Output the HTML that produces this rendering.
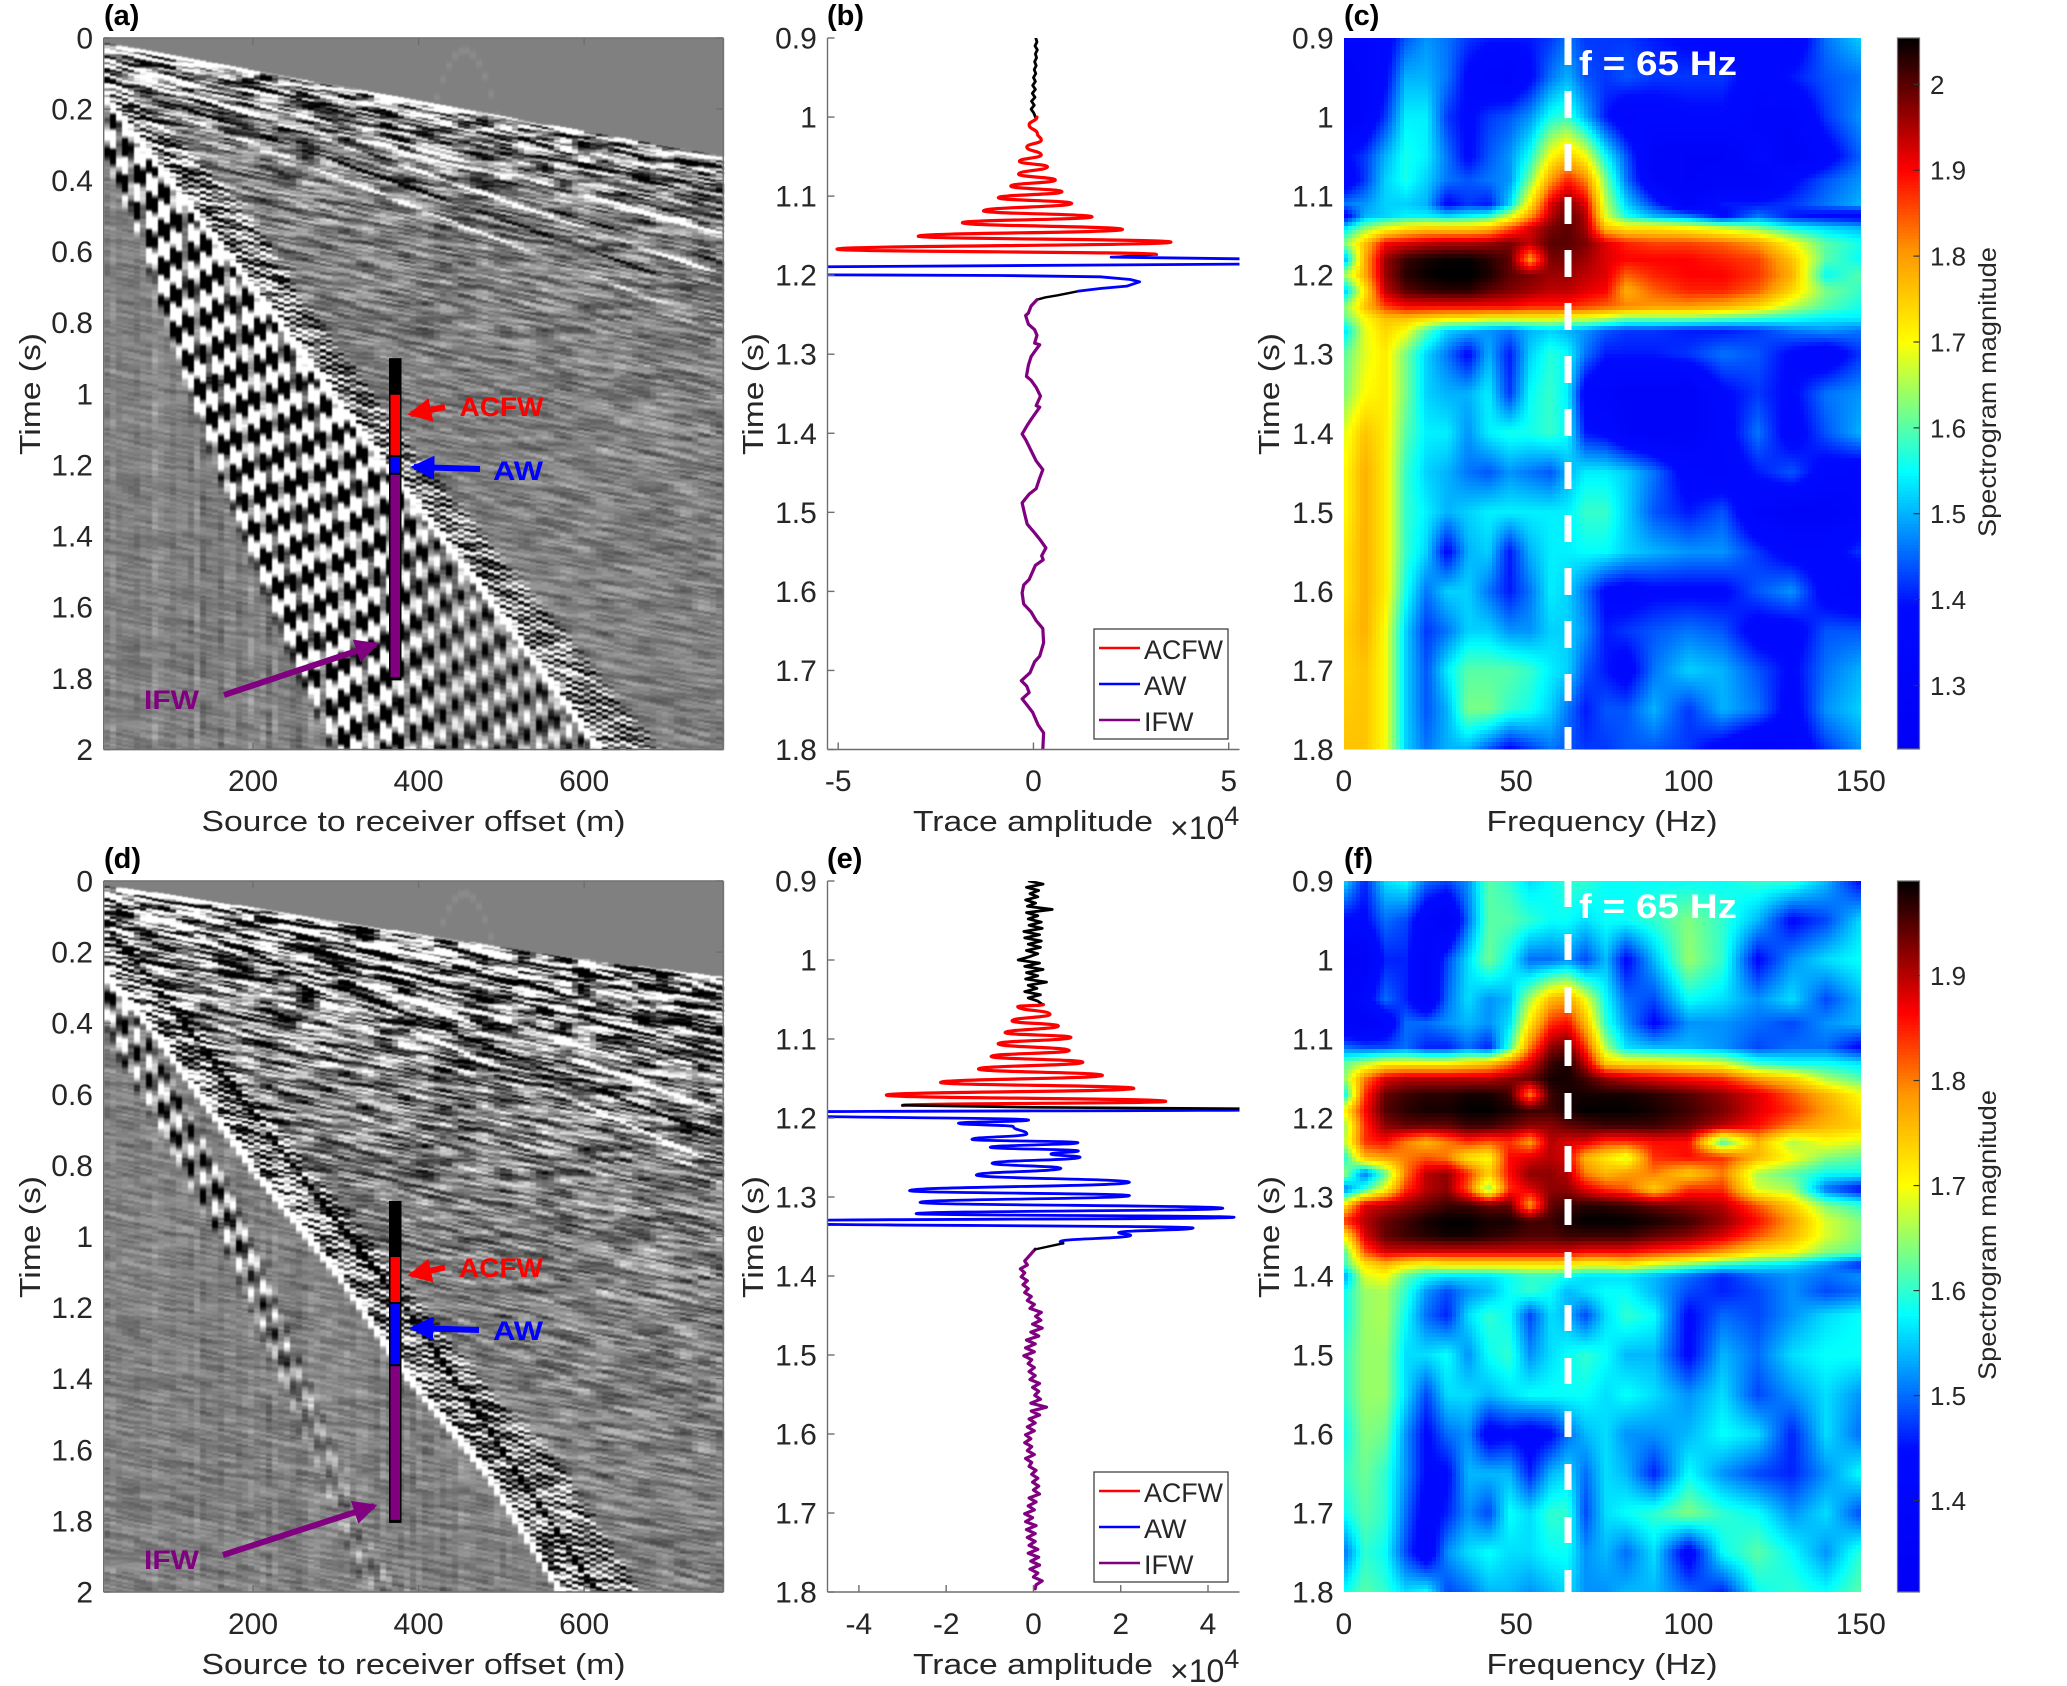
<!DOCTYPE html>
<html lang="en">
<head>
<meta charset="utf-8">
<title>Seismic gathers, traces and spectrograms</title>
<style>
html,body{margin:0;padding:0;background:#fff;}
#figure{position:relative;width:2067px;height:1686px;overflow:hidden;background:#fff;font-family:"Liberation Sans",sans-serif;}
canvas{position:absolute;display:block;filter:blur(0.6px);}
#overlay{position:absolute;left:0;top:0;}
text{font-family:"Liberation Sans",sans-serif;fill:#262626;}
</style>
</head>
<body>
<div id="figure">
<canvas id="gather-a" width="620" height="712" style="left:104px;top:38px"></canvas>
<canvas id="gather-d" width="620" height="711" style="left:104px;top:881px"></canvas>
<svg id="overlay" width="2067" height="1686" viewBox="0 0 2067 1686" xmlns="http://www.w3.org/2000/svg">
<defs>
<clipPath id="clip-b"><rect x="827.5" y="38" width="412" height="711.5"/></clipPath>
<clipPath id="clip-e"><rect x="827.5" y="881" width="412" height="711"/></clipPath>
<marker id="head-red" markerWidth="4" markerHeight="4" refX="3.4" refY="2" orient="auto"><path d="M0,0 L4,2 L0,4 Z" fill="#ff0000"/></marker>
<marker id="head-blue" markerWidth="4" markerHeight="4" refX="3.4" refY="2" orient="auto"><path d="M0,0 L4,2 L0,4 Z" fill="#0000ff"/></marker>
<marker id="head-purple" markerWidth="4" markerHeight="4" refX="3.4" refY="2" orient="auto"><path d="M0,0 L4,2 L0,4 Z" fill="#800080"/></marker>
</defs>
<g id="heat-c"></g>
<g id="heat-f"></g>
<g id="cbar-c"></g>
<g id="cbar-f"></g>
<g id="trace-b" clip-path="url(#clip-b)"></g>
<g id="trace-e" clip-path="url(#clip-e)"></g>
<g id="axes"></g>
<g id="bars"></g>

<text x="104" y="25" font-size="29" font-weight="bold" style="fill:#000">(a)</text>
<text x="827" y="25" font-size="29" font-weight="bold" style="fill:#000">(b)</text>
<text x="1344" y="25" font-size="29" font-weight="bold" style="fill:#000">(c)</text>
<text x="104" y="868" font-size="29" font-weight="bold" style="fill:#000">(d)</text>
<text x="827" y="868" font-size="29" font-weight="bold" style="fill:#000">(e)</text>
<text x="1344" y="868" font-size="29" font-weight="bold" style="fill:#000">(f)</text>

<text x="413.5" y="831" font-size="29" text-anchor="middle" textLength="424" lengthAdjust="spacingAndGlyphs">Source to receiver offset (m)</text>
<text x="413.5" y="1674" font-size="29" text-anchor="middle" textLength="424" lengthAdjust="spacingAndGlyphs">Source to receiver offset (m)</text>
<text x="1033" y="831" font-size="29" text-anchor="middle" textLength="240" lengthAdjust="spacingAndGlyphs">Trace amplitude</text>
<text x="1033" y="1674" font-size="29" text-anchor="middle" textLength="240" lengthAdjust="spacingAndGlyphs">Trace amplitude</text>
<text x="1602" y="831" font-size="29" text-anchor="middle" textLength="231" lengthAdjust="spacingAndGlyphs">Frequency (Hz)</text>
<text x="1602" y="1674" font-size="29" text-anchor="middle" textLength="231" lengthAdjust="spacingAndGlyphs">Frequency (Hz)</text>

<text x="1170" y="839" font-size="32">×10<tspan dy="-14" font-size="27">4</tspan></text>
<text x="1170" y="1682" font-size="32">×10<tspan dy="-14" font-size="27">4</tspan></text>

<text transform="rotate(-90 40 394)" x="40" y="394" font-size="29" text-anchor="middle" textLength="122" lengthAdjust="spacingAndGlyphs">Time (s)</text>
<text transform="rotate(-90 763 394)" x="763" y="394" font-size="29" text-anchor="middle" textLength="122" lengthAdjust="spacingAndGlyphs">Time (s)</text>
<text transform="rotate(-90 1279 394)" x="1279" y="394" font-size="29" text-anchor="middle" textLength="122" lengthAdjust="spacingAndGlyphs">Time (s)</text>
<text transform="rotate(-90 40 1237)" x="40" y="1237" font-size="29" text-anchor="middle" textLength="122" lengthAdjust="spacingAndGlyphs">Time (s)</text>
<text transform="rotate(-90 763 1237)" x="763" y="1237" font-size="29" text-anchor="middle" textLength="122" lengthAdjust="spacingAndGlyphs">Time (s)</text>
<text transform="rotate(-90 1279 1237)" x="1279" y="1237" font-size="29" text-anchor="middle" textLength="122" lengthAdjust="spacingAndGlyphs">Time (s)</text>

<text transform="rotate(-90 1996 392)" x="1996" y="392" font-size="25" text-anchor="middle" textLength="290" lengthAdjust="spacingAndGlyphs">Spectrogram magnitude</text>
<text transform="rotate(-90 1996 1235)" x="1996" y="1235" font-size="25" text-anchor="middle" textLength="290" lengthAdjust="spacingAndGlyphs">Spectrogram magnitude</text>

<line x1="1568" y1="38" x2="1568" y2="749" stroke="#fff" stroke-width="7" stroke-dasharray="27 26"/>
<line x1="1568" y1="881" x2="1568" y2="1592" stroke="#fff" stroke-width="7" stroke-dasharray="26 27"/>
<text x="1579" y="75" font-size="34" font-weight="bold" textLength="158" lengthAdjust="spacingAndGlyphs" style="fill:#fff">f = 65 Hz</text>
<text x="1579" y="918" font-size="34" font-weight="bold" textLength="158" lengthAdjust="spacingAndGlyphs" style="fill:#fff">f = 65 Hz</text>

<line x1="445" y1="407" x2="411" y2="414" stroke="#ff0000" stroke-width="6" marker-end="url(#head-red)"/>
<text x="459.5" y="416" font-size="27" font-weight="bold" textLength="84" lengthAdjust="spacingAndGlyphs" style="fill:#ff0000">ACFW</text>
<line x1="480" y1="469" x2="414" y2="467" stroke="#0000ff" stroke-width="6" marker-end="url(#head-blue)"/>
<text x="493" y="480" font-size="27" font-weight="bold" textLength="50" lengthAdjust="spacingAndGlyphs" style="fill:#0000ff">AW</text>
<line x1="224" y1="695" x2="376" y2="644.5" stroke="#800080" stroke-width="6" marker-end="url(#head-purple)"/>
<text x="144" y="709" font-size="27" font-weight="bold" textLength="55" lengthAdjust="spacingAndGlyphs" style="fill:#800080">IFW</text>

<line x1="445" y1="1267.5" x2="411" y2="1275" stroke="#ff0000" stroke-width="6" marker-end="url(#head-red)"/>
<text x="459" y="1277" font-size="27" font-weight="bold" textLength="84" lengthAdjust="spacingAndGlyphs" style="fill:#ff0000">ACFW</text>
<line x1="479" y1="1330" x2="413" y2="1328" stroke="#0000ff" stroke-width="6" marker-end="url(#head-blue)"/>
<text x="493" y="1340" font-size="27" font-weight="bold" textLength="50" lengthAdjust="spacingAndGlyphs" style="fill:#0000ff">AW</text>
<line x1="223" y1="1555" x2="374" y2="1506" stroke="#800080" stroke-width="6" marker-end="url(#head-purple)"/>
<text x="144" y="1569" font-size="27" font-weight="bold" textLength="55" lengthAdjust="spacingAndGlyphs" style="fill:#800080">IFW</text>

<g>
<rect x="1094" y="629" width="134" height="110" fill="#fff" stroke="#333" stroke-width="1.2"/>
<line x1="1099" y1="648" x2="1140" y2="648" stroke="#ff0000" stroke-width="2.6"/>
<text x="1144" y="659" font-size="27" textLength="79" lengthAdjust="spacingAndGlyphs">ACFW</text>
<line x1="1099" y1="684" x2="1140" y2="684" stroke="#0000ff" stroke-width="2.6"/>
<text x="1144" y="695" font-size="27">AW</text>
<line x1="1099" y1="720" x2="1140" y2="720" stroke="#800080" stroke-width="2.6"/>
<text x="1144" y="731" font-size="27">IFW</text>
</g>
<g>
<rect x="1094" y="1472" width="134" height="110" fill="#fff" stroke="#333" stroke-width="1.2"/>
<line x1="1099" y1="1491" x2="1140" y2="1491" stroke="#ff0000" stroke-width="2.6"/>
<text x="1144" y="1502" font-size="27" textLength="79" lengthAdjust="spacingAndGlyphs">ACFW</text>
<line x1="1099" y1="1527" x2="1140" y2="1527" stroke="#0000ff" stroke-width="2.6"/>
<text x="1144" y="1538" font-size="27">AW</text>
<line x1="1099" y1="1563" x2="1140" y2="1563" stroke="#800080" stroke-width="2.6"/>
<text x="1144" y="1574" font-size="27">IFW</text>
</g>
</svg>
</div>

<script>
/* ---------- tick labels ---------- */
const gatherTimeTicks = ['0','0.2','0.4','0.6','0.8','1','1.2','1.4','1.6','1.8','2'];
const gatherOffsetTicks = ['200','400','600'];
const windowTimeTicks = ['0.9','1','1.1','1.2','1.3','1.4','1.5','1.6','1.7','1.8'];
const ampTicksB = ['-5','0','5'];
const ampTicksE = ['-4','-2','0','2','4'];
const freqTicks = ['0','50','100','150'];
const cbarTicksC = ['1.3','1.4','1.5','1.6','1.7','1.8','1.9','2'];
const cbarTicksF = ['1.4','1.5','1.6','1.7','1.8','1.9'];

/* ---------- trace (b), amplitudes in 1e4 units ---------- */
const blackStartB = 0.9;
const blackStepB = 0.005;
const blackAmpB = [0.06,0.09,0.04,0.10,0.05,0.08,0.03,0.07,0.02,0.06,0.0,0.05,-0.02,0.05,-0.03,0.04,-0.05,0.02,-0.06,0.01,0.05];
const redTimesB = [1.0,1.010,1.021,1.029,1.038,1.048,1.056,1.0629,1.0722,1.0797,1.0873,1.0945,1.102,1.1092,1.1186,1.1262,1.1337,1.1422,1.1507,1.1582,1.1671,1.1738];
const redAmpB = [0.09,-0.11,0.10,0.20,-0.17,0.20,-0.36,0.36,-0.38,0.56,-0.58,0.73,-0.90,0.98,-1.28,1.50,-1.82,2.28,-2.95,3.52,-5.03,3.15];
const joinTimesB = [1.1738,1.1772];
const joinAmpB = [3.15,1.99];
const blueTimesB = [1.1772,1.1793,1.1827,1.186,1.1894,1.1945,1.1996,1.2004,1.2021,1.2055,1.2084,1.2139,1.2169,1.2202];
const blueAmpB = [1.99,5.3,12,5.3,-5.3,-16,-5.3,-0.85,1.71,2.48,2.72,2.39,1.71,1.15];
const tailTimesB = [1.2202,1.2255,1.2282,1.231];
const tailAmpB = [1.15,0.62,0.30,0.09];
const purpleTimesB = [1.231,1.239,1.248,1.251,1.262,1.269,1.276,1.286,1.288,1.294,1.303,1.314,1.328,1.333,1.342,1.353,1.365,1.367,1.381,1.390,1.401,1.408,1.422,1.435,1.446,1.458,1.470,1.477,1.488,1.501,1.515,1.526,1.536,1.545,1.555,1.560,1.567,1.585,1.592,1.602,1.616,1.626,1.637,1.647,1.665,1.682,1.689,1.703,1.713,1.720,1.728,1.736,1.744,1.753,1.769,1.779,1.800];
const purpleAmpB = [0.09,-0.06,-0.13,-0.20,-0.13,0.03,0.09,0.03,0.16,0.07,-0.06,-0.13,-0.18,-0.06,0.07,0.18,0.07,0.16,-0.04,-0.16,-0.29,-0.20,-0.06,0.07,0.24,0.15,0.07,-0.11,-0.29,-0.23,-0.16,0.03,0.19,0.32,0.21,0.25,0.05,-0.11,-0.25,-0.29,-0.25,-0.06,0.07,0.24,0.26,0.16,0.03,-0.09,-0.31,-0.17,-0.11,-0.29,-0.16,-0.02,0.12,0.26,0.24];

/* ---------- trace (e) ---------- */
const blackStartE = 0.9;
const blackStepE = 0.004;
const blackAmpE = [-0.10,0.22,-0.16,0.12,-0.08,0.10,-0.18,0.05,-0.14,0.43,-0.16,0.10,-0.12,0.18,-0.10,0.20,-0.22,0.14,-0.20,0.18,-0.12,0.16,-0.16,0.10,-0.10,-0.35,0.14,-0.20,0.22,-0.16,0.10,-0.18,0.30,-0.12,0.08,-0.20,0.16,-0.12,0.10,0.20];
const redTimesE = [1.0565,1.059,1.0687,1.077,1.0835,1.092,1.098,1.106,1.1146,1.122,1.1294,1.138,1.146,1.155,1.1625,1.171,1.179,1.184];
const redAmpE = [0.23,-0.36,0.38,-0.49,0.57,-0.65,0.86,-0.81,0.82,-0.97,1.13,-1.26,1.58,-2.13,2.30,-3.37,3.03,-3.0];
const joinTimesE = [1.184,1.1865,1.1885];
const joinAmpE = [-3.0,0,5.5];
const blueTimesE = [1.1895,1.1925,1.1965,1.2026,1.2067,1.2109,1.2203,1.2271,1.2312,1.2371,1.2417,1.2455,1.2497,1.2573,1.2637,1.2721,1.2814,1.2920,1.2983,1.3068,1.3143,1.3211,1.3257,1.3305,1.3330,1.3392,1.3451,1.3485,1.3565,1.3586];
const blueAmpE = [5.5,-5.5,-5.5,-0.11,-1.72,-0.46,-0.15,-1.41,1.02,-0.99,1.03,0.40,1.07,-0.95,0.63,-1.31,2.2,-2.84,2.2,-2.6,4.34,-2.69,4.6,-6,-6,3.66,1.95,2.23,0.61,0.68];
const tailTimesE = [1.3586,1.3663];
const tailAmpE = [0.68,0.04];
const purpleStartE = 1.366;
const purpleStepE = 0.005;
const purpleAmpE = [0.04,-0.04,-0.12,-0.20,-0.14,-0.30,-0.20,-0.28,-0.14,-0.24,-0.12,-0.20,-0.05,-0.14,0.02,-0.08,0.18,0.05,0.17,-0.02,0.20,-0.06,0.12,-0.16,0.04,-0.18,0.02,-0.22,-0.04,-0.12,0.02,-0.10,0.04,-0.08,0.14,-0.02,0.12,0.03,0.16,-0.06,0.30,-0.05,0.14,-0.10,0.04,-0.14,0.02,-0.18,-0.06,-0.20,-0.04,-0.14,0.02,-0.18,-0.04,-0.10,0.06,-0.04,0.10,-0.02,0.12,0.0,0.14,-0.10,0.06,-0.12,0.02,-0.20,-0.02,-0.18,0.06,-0.16,0.04,-0.14,0.04,-0.10,0.10,-0.12,0.12,-0.06,0.14,-0.08,0.10,0.0,0.20,0.06,0.04];

/* ---------- spectrograms ---------- */
const specFreqs = [0,6,12,18,24,30,36,42,48,54,60,65,70,76,82,90,100,110,120,130,140,150];
const specTimesC = [0.90,0.95,1.0,1.05,1.08,1.11,1.125,1.14,1.16,1.18,1.2,1.22,1.24,1.255,1.27,1.3,1.35,1.4,1.45,1.5,1.55,1.6,1.65,1.7,1.75,1.8];
const specValuesC = [
[1.33,1.33,1.36,1.44,1.48,1.46,1.42,1.40,1.40,1.40,1.42,1.46,1.42,1.42,1.42,1.40,1.38,1.36,1.38,1.34,1.46,1.52],
[1.30,1.32,1.38,1.50,1.50,1.46,1.38,1.34,1.32,1.38,1.46,1.50,1.44,1.42,1.44,1.42,1.42,1.42,1.36,1.40,1.44,1.46],
[1.28,1.33,1.42,1.54,1.54,1.42,1.38,1.42,1.44,1.48,1.56,1.58,1.50,1.40,1.34,1.36,1.38,1.38,1.32,1.32,1.42,1.48],
[1.38,1.42,1.50,1.56,1.54,1.46,1.38,1.44,1.48,1.56,1.70,1.76,1.70,1.55,1.44,1.30,1.28,1.28,1.36,1.30,1.36,1.45],
[1.34,1.42,1.52,1.56,1.52,1.46,1.44,1.46,1.48,1.62,1.80,1.88,1.82,1.62,1.46,1.32,1.28,1.30,1.30,1.38,1.44,1.48],
[1.46,1.48,1.52,1.52,1.50,1.38,1.42,1.40,1.52,1.72,1.92,1.98,1.92,1.66,1.52,1.42,1.30,1.40,1.40,1.42,1.46,1.50],
[1.36,1.50,1.52,1.54,1.54,1.52,1.54,1.56,1.66,1.80,1.94,2.00,1.95,1.68,1.56,1.50,1.46,1.38,1.46,1.40,1.38,1.36],
[1.52,1.62,1.68,1.72,1.74,1.74,1.74,1.76,1.84,1.92,1.98,2.00,1.96,1.76,1.72,1.72,1.70,1.66,1.62,1.55,1.52,1.50],
[1.62,1.76,1.90,1.92,1.94,1.95,1.95,1.96,1.98,1.94,2.00,2.00,1.98,1.92,1.88,1.86,1.86,1.84,1.80,1.70,1.60,1.56],
[1.48,1.78,1.96,2.02,2.04,2.05,2.05,2.03,2.00,1.80,1.98,1.98,1.96,1.92,1.90,1.90,1.90,1.88,1.86,1.76,1.60,1.55],
[1.64,1.78,1.96,2.03,2.05,2.06,2.06,2.04,2.00,1.98,1.96,1.96,1.94,1.92,1.84,1.88,1.90,1.90,1.87,1.78,1.55,1.60],
[1.50,1.72,1.94,2.00,2.02,2.03,2.03,2.00,1.98,1.96,1.94,1.94,1.92,1.90,1.78,1.84,1.88,1.88,1.84,1.74,1.62,1.58],
[1.62,1.76,1.86,1.90,1.90,1.90,1.90,1.90,1.90,1.88,1.88,1.88,1.86,1.84,1.82,1.80,1.80,1.78,1.74,1.66,1.60,1.56],
[1.60,1.70,1.76,1.76,1.74,1.72,1.72,1.70,1.70,1.70,1.70,1.68,1.68,1.66,1.62,1.62,1.62,1.60,1.58,1.56,1.54,1.54],
[1.52,1.68,1.74,1.70,1.60,1.52,1.50,1.48,1.46,1.50,1.52,1.50,1.48,1.44,1.42,1.42,1.40,1.40,1.42,1.46,1.48,1.46],
[1.60,1.68,1.72,1.62,1.52,1.46,1.38,1.50,1.40,1.52,1.57,1.55,1.46,1.40,1.40,1.40,1.42,1.46,1.44,1.38,1.34,1.42],
[1.62,1.70,1.72,1.62,1.52,1.50,1.50,1.54,1.42,1.55,1.58,1.54,1.36,1.32,1.30,1.30,1.28,1.38,1.42,1.38,1.46,1.48],
[1.68,1.76,1.72,1.60,1.54,1.54,1.48,1.54,1.56,1.56,1.58,1.55,1.40,1.38,1.32,1.30,1.30,1.36,1.46,1.36,1.44,1.50],
[1.70,1.78,1.72,1.58,1.52,1.50,1.46,1.44,1.48,1.46,1.44,1.50,1.54,1.54,1.52,1.46,1.36,1.34,1.40,1.44,1.36,1.34],
[1.70,1.78,1.72,1.58,1.54,1.50,1.52,1.54,1.54,1.54,1.54,1.54,1.58,1.58,1.52,1.44,1.40,1.44,1.32,1.30,1.30,1.34],
[1.72,1.78,1.72,1.58,1.52,1.38,1.50,1.52,1.40,1.50,1.54,1.54,1.55,1.55,1.52,1.50,1.48,1.48,1.42,1.36,1.36,1.42],
[1.72,1.78,1.72,1.56,1.46,1.52,1.52,1.46,1.40,1.46,1.54,1.52,1.46,1.38,1.36,1.38,1.38,1.38,1.44,1.48,1.36,1.32],
[1.74,1.78,1.70,1.52,1.42,1.46,1.52,1.52,1.48,1.48,1.52,1.52,1.48,1.40,1.42,1.44,1.46,1.44,1.36,1.36,1.44,1.44],
[1.74,1.76,1.70,1.52,1.44,1.54,1.60,1.60,1.60,1.58,1.54,1.52,1.44,1.40,1.36,1.46,1.52,1.50,1.44,1.38,1.46,1.50],
[1.75,1.76,1.70,1.52,1.44,1.50,1.62,1.62,1.58,1.56,1.52,1.46,1.40,1.44,1.44,1.50,1.42,1.50,1.46,1.36,1.48,1.52],
[1.76,1.76,1.70,1.52,1.46,1.50,1.50,1.44,1.38,1.42,1.46,1.44,1.42,1.42,1.44,1.44,1.42,1.36,1.30,1.34,1.42,1.48]
];
const specTimesF = [0.90,0.95,1.0,1.05,1.08,1.11,1.13,1.15,1.17,1.19,1.21,1.23,1.25,1.27,1.29,1.31,1.33,1.35,1.37,1.385,1.4,1.42,1.45,1.5,1.55,1.6,1.65,1.7,1.75,1.8];
const specValuesF = [
[1.56,1.46,1.56,1.58,1.50,1.48,1.52,1.62,1.60,1.56,1.58,1.60,1.60,1.58,1.58,1.58,1.58,1.58,1.60,1.60,1.54,1.44],
[1.44,1.44,1.50,1.48,1.40,1.36,1.50,1.62,1.62,1.60,1.58,1.58,1.56,1.58,1.58,1.60,1.64,1.60,1.54,1.44,1.48,1.56],
[1.34,1.36,1.46,1.46,1.38,1.48,1.56,1.63,1.58,1.50,1.50,1.52,1.48,1.54,1.44,1.54,1.65,1.60,1.44,1.52,1.56,1.58],
[1.36,1.42,1.50,1.46,1.38,1.50,1.56,1.52,1.54,1.66,1.76,1.78,1.70,1.58,1.50,1.48,1.58,1.56,1.52,1.56,1.48,1.54],
[1.38,1.36,1.40,1.50,1.50,1.52,1.54,1.52,1.56,1.72,1.84,1.86,1.76,1.60,1.52,1.44,1.52,1.52,1.50,1.48,1.52,1.54],
[1.50,1.48,1.48,1.50,1.46,1.46,1.50,1.46,1.60,1.80,1.92,1.94,1.84,1.66,1.56,1.54,1.54,1.52,1.48,1.50,1.50,1.44],
[1.62,1.66,1.70,1.70,1.70,1.70,1.72,1.74,1.80,1.88,1.96,1.98,1.90,1.74,1.72,1.72,1.70,1.68,1.60,1.58,1.58,1.56],
[1.64,1.80,1.88,1.90,1.90,1.90,1.90,1.90,1.92,1.94,1.98,1.98,1.96,1.92,1.90,1.88,1.86,1.84,1.78,1.74,1.66,1.62],
[1.56,1.84,1.94,1.96,1.97,1.97,1.98,1.98,1.96,1.80,1.96,1.98,1.98,1.98,1.98,1.97,1.95,1.92,1.88,1.82,1.76,1.70],
[1.70,1.86,1.95,1.97,1.98,1.98,1.99,1.99,1.98,1.96,1.96,1.98,1.99,1.99,1.99,1.98,1.96,1.93,1.88,1.84,1.78,1.72],
[1.64,1.84,1.92,1.94,1.94,1.94,1.96,1.96,1.94,1.92,1.92,1.94,1.95,1.96,1.96,1.96,1.94,1.90,1.86,1.80,1.76,1.74],
[1.66,1.84,1.86,1.80,1.76,1.80,1.84,1.82,1.84,1.78,1.90,1.88,1.88,1.84,1.84,1.86,1.86,1.60,1.76,1.66,1.70,1.68],
[1.58,1.76,1.78,1.80,1.82,1.80,1.72,1.70,1.86,1.88,1.90,1.88,1.76,1.72,1.68,1.84,1.86,1.84,1.76,1.70,1.64,1.62],
[1.66,1.50,1.62,1.80,1.90,1.92,1.84,1.74,1.86,1.92,1.92,1.90,1.80,1.76,1.78,1.80,1.74,1.80,1.66,1.62,1.58,1.58],
[1.50,1.60,1.70,1.84,1.90,1.92,1.82,1.64,1.84,1.88,1.92,1.92,1.88,1.84,1.82,1.74,1.84,1.84,1.68,1.66,1.50,1.44],
[1.72,1.88,1.90,1.92,1.94,1.96,1.96,1.94,1.94,1.78,1.94,1.96,1.97,1.97,1.96,1.94,1.92,1.90,1.82,1.74,1.64,1.60],
[1.84,1.90,1.94,1.96,1.98,1.99,1.99,1.98,1.98,1.96,1.96,1.98,1.99,1.99,1.99,1.98,1.96,1.92,1.86,1.78,1.68,1.64],
[1.70,1.88,1.94,1.96,1.97,1.98,1.98,1.97,1.96,1.95,1.95,1.96,1.96,1.96,1.96,1.94,1.92,1.88,1.82,1.76,1.68,1.64],
[1.60,1.82,1.88,1.88,1.88,1.88,1.88,1.88,1.88,1.88,1.88,1.88,1.86,1.86,1.86,1.84,1.82,1.78,1.72,1.70,1.64,1.62],
[1.60,1.72,1.76,1.72,1.70,1.72,1.72,1.72,1.72,1.72,1.72,1.72,1.70,1.70,1.72,1.68,1.64,1.60,1.58,1.56,1.52,1.46],
[1.52,1.68,1.70,1.62,1.58,1.56,1.56,1.56,1.58,1.60,1.60,1.58,1.56,1.56,1.56,1.54,1.50,1.46,1.50,1.52,1.50,1.52],
[1.58,1.65,1.66,1.60,1.52,1.48,1.52,1.54,1.58,1.60,1.58,1.54,1.56,1.58,1.58,1.54,1.48,1.46,1.48,1.52,1.48,1.50],
[1.58,1.65,1.66,1.58,1.50,1.46,1.56,1.60,1.58,1.48,1.56,1.54,1.48,1.56,1.60,1.58,1.44,1.50,1.48,1.52,1.56,1.58],
[1.60,1.65,1.65,1.56,1.56,1.58,1.52,1.58,1.60,1.52,1.56,1.58,1.60,1.58,1.54,1.54,1.44,1.54,1.50,1.56,1.58,1.58],
[1.60,1.65,1.65,1.56,1.48,1.56,1.56,1.54,1.56,1.58,1.58,1.58,1.58,1.56,1.58,1.56,1.52,1.56,1.48,1.52,1.56,1.52],
[1.58,1.64,1.63,1.52,1.44,1.50,1.52,1.42,1.44,1.42,1.44,1.50,1.54,1.56,1.52,1.52,1.54,1.58,1.56,1.46,1.56,1.50],
[1.60,1.63,1.60,1.52,1.44,1.44,1.54,1.54,1.54,1.46,1.54,1.56,1.50,1.56,1.54,1.46,1.58,1.52,1.48,1.46,1.52,1.58],
[1.58,1.62,1.60,1.50,1.42,1.46,1.52,1.48,1.58,1.56,1.60,1.60,1.48,1.56,1.58,1.60,1.64,1.60,1.58,1.52,1.56,1.48],
[1.50,1.60,1.58,1.48,1.40,1.52,1.56,1.58,1.56,1.56,1.58,1.58,1.52,1.54,1.50,1.56,1.42,1.58,1.62,1.58,1.52,1.60],
[1.58,1.62,1.60,1.56,1.58,1.48,1.50,1.54,1.54,1.52,1.54,1.56,1.52,1.52,1.54,1.54,1.50,1.46,1.58,1.60,1.58,1.62]
];

/* ---------- windows marked on the gathers (seconds) ---------- */
const windowEdgesA = [0.9,1.0,1.175,1.225,1.8];
const windowEdgesD = [0.9,1.055,1.187,1.362,1.8];

/* ---------- event picks on the gathers (offset m, time s) ---------- */
const firstOffsetsA = [20,200,400,600,768];
const firstTimesA = [0.01,0.09,0.175,0.26,0.33];
const coneOffsetsA = [20,193,275,393,480,697,768];
const coneTimesA = [0.05,0.46,0.757,1.127,1.375,1.99,2.2];
const edgeOffsetsA = [20,200,305,480,615,768];
const edgeTimesA = [0.16,0.70,1.03,1.56,1.99,2.5];
const rollOffsetsA = [20,59,129,223,316,768];
const rollBottomA = [0.36,0.58,1.08,1.66,2.15,3.6];
const lineInterceptA = [0.01,0.05,0.06,0.10,0.09,0.03,0.02,0.08,0.12];
const lineSlopeA = [0.00043,0.00065,0.00079,0.00082,0.0006,0.00055,0.0005,0.00072,0.0009];
const lineAmpA = [2.2,1.3,1.8,-1.4,1.0,-1.0,0.9,-1.0,0.9];

const firstOffsetsD = [20,200,400,600,768];
const firstTimesD = [0.01,0.075,0.15,0.22,0.27];
const coneOffsetsD = [20,246,322,486,563,674,768];
const coneTimesD = [0.04,0.71,0.93,1.41,1.59,2.0,2.3];
const edgeOffsetsD = [20,70,199,305,381,481,569,768];
const edgeTimesD = [0.26,0.39,0.805,1.11,1.375,1.66,1.99,2.6];
const diagOffsetsD = [20,70,281,381,486,615,768];
const diagTimesD = [0.12,0.26,0.90,1.19,1.55,2.0,2.5];
const bandOffsetsD = [20,35,100,176,223,275,340,768];
const bandTimesD = [0.30,0.39,0.66,0.99,1.26,1.56,1.95,3.5];
const lineInterceptD = [0.01,0.02,0.02,0.02,0.02,0.02,0.02,0.02,0.03,0.03,0.02,0.04];
const lineSlopeD = [0.00034,0.00047,0.00052,0.0006,0.00082,0.00092,0.00102,0.0004,0.00044,0.00068,0.00075,0.00058];
const lineAmpD = [2.4,2.0,-2.0,2.0,2.0,-2.2,1.6,-2.0,1.4,-1.4,1.2,-1.2];

/* ---------- helpers ---------- */
const SVGNS = 'http://www.w3.org/2000/svg';
function svgEl(tag, attrs, parent){
  const el = document.createElementNS(SVGNS, tag);
  for (const k in attrs) el.setAttribute(k, attrs[k]);
  if (parent) parent.appendChild(el);
  return el;
}
function linScale(d0,d1,r0,r1){ return v => r0 + (v-d0)/(d1-d0)*(r1-r0); }
function lerpArr(xs,ys,x){
  let i = 0;
  while (i < xs.length-2 && x > xs[i+1]) i++;
  return ys[i] + (x-xs[i])/(xs[i+1]-xs[i])*(ys[i+1]-ys[i]);
}
const colorStops = [[0,0,0,245],[0.2,0,10,255],[0.39,0,255,255],[0.572,255,255,0],[0.7,255,150,0],[0.814,255,0,0],[1,0,0,0]];
function colormap(f){
  f = Math.max(0,Math.min(1,f));
  let i = 0;
  while (i < colorStops.length-2 && f > colorStops[i+1][0]) i++;
  const a = colorStops[i], b = colorStops[i+1], u = (f-a[0])/(b[0]-a[0]);
  return 'rgb(' + Math.round(a[1]+u*(b[1]-a[1])) + ',' + Math.round(a[2]+u*(b[2]-a[2])) + ',' + Math.round(a[3]+u*(b[3]-a[3])) + ')';
}

/* ---------- axes ---------- */
const axesG = document.getElementById('axes');
function axisLine(x1,y1,x2,y2,name){
  const el = svgEl('line',{x1:x1,y1:y1,x2:x2,y2:y2,stroke:'#6e6e6e','stroke-width':1.4},axesG);
  
  
}
function tickText(str,x,y,anchor,size,name){
  const el = svgEl('text',{x:x,y:y,'text-anchor':anchor,'font-size':size},axesG);
  el.textContent = str;
  
  
}
function yTicks(labels,scale,xAxis,labelRight,len,name,mirror){
  labels.forEach(lab => {
    const y = scale(parseFloat(lab));
    if (len) axisLine(xAxis,y,xAxis+len,y,name+'-tick');
    if (mirror) axisLine(mirror,y,mirror-len,y,name+'-tick-right');
    tickText(lab,labelRight,y+10.5,'end',30,name+'-label');
  });
}
function xTicks(labels,scale,yAxis,baseline,len,name,mirror){
  labels.forEach(lab => {
    const x = scale(parseFloat(lab));
    if (len) axisLine(x,yAxis,x,yAxis-len,name+'-tick');
    if (mirror) axisLine(x,mirror,x,mirror+len,name+'-tick-top');
    tickText(lab,x,baseline,'middle',30,name+'-label');
  });
}
const rows = [
  {top:38,bottom:749.5,base:791,suffix:['a','b','c']},
  {top:881,bottom:1592,base:1634,suffix:['d','e','f']}
];
rows.forEach((r,idx) => {
  const gy = linScale(0,2,r.top,r.bottom);
  const gx = linScale(19.6,768,103.7,723.2);
  const wy = linScale(0.9,1.8,r.top,r.bottom);
  axisLine(103.7,r.top,723.2,r.top,'gather-frame-top');
  axisLine(103.7,r.bottom,723.2,r.bottom,'gather-frame-bottom');
  axisLine(103.7,r.top,103.7,r.bottom,'gather-frame-left');
  axisLine(723.2,r.top,723.2,r.bottom,'gather-frame-right');
  yTicks(gatherTimeTicks,gy,103.7,93,7,'gather-y-'+r.suffix[0],723.2);
  xTicks(gatherOffsetTicks,gx,r.bottom,r.base,7,'gather-x-'+r.suffix[0],r.top);

  axisLine(827.5,r.top,827.5,r.bottom,'trace-y-axis-'+r.suffix[1]);
  axisLine(827.5,r.bottom,1239.5,r.bottom,'trace-x-axis-'+r.suffix[1]);
  yTicks(windowTimeTicks,wy,827.5,816.8,7,'trace-y-'+r.suffix[1]);
  const tx = idx === 0 ? linScale(-5,5,838.2,1228.7) : linScale(-4,4,858.9,1208);
  xTicks(idx === 0 ? ampTicksB : ampTicksE,tx,r.bottom,r.base,7,'trace-x-'+r.suffix[1]);

  yTicks(windowTimeTicks,wy,1343.8,1333.7,0,'spectrogram-y-'+r.suffix[2]);
  xTicks(freqTicks,linScale(0,150,1343.8,1860.8),r.bottom,r.base,0,'spectrogram-x-'+r.suffix[2]);
});

/* ---------- traces ---------- */
function tracePath(times,amps,xs,ys,smooth,color,width,parent,name){
  let d = 'M' + xs(amps[0]).toFixed(2) + ',' + ys(times[0]).toFixed(2);
  for (let i = 1; i < times.length; i++){
    const x0 = xs(amps[i-1]), y0 = ys(times[i-1]), x1 = xs(amps[i]), y1 = ys(times[i]);
    if (smooth){
      const ym = (y0+y1)/2;
      d += 'C' + x0.toFixed(2) + ',' + ym.toFixed(2) + ' ' + x1.toFixed(2) + ',' + ym.toFixed(2) + ' ' + x1.toFixed(2) + ',' + y1.toFixed(2);
    } else {
      d += 'L' + x1.toFixed(2) + ',' + y1.toFixed(2);
    }
  }
  const el = svgEl('path',{d:d,fill:'none',stroke:color,'stroke-width':width,'stroke-linejoin':'round','stroke-linecap':'round'},parent);
  
  
}
(function(){
  const gb = document.getElementById('trace-b');
  const xb = linScale(-5,5,838.2,1228.7), yb = linScale(0.9,1.8,38,749.5);
  tracePath(blackAmpB.map((a,i)=>blackStartB+i*blackStepB),blackAmpB,xb,yb,false,'#000',2.8,gb,'noise-trace-b');
  tracePath(joinTimesB,joinAmpB,xb,yb,false,'#000',2.4,gb,'join-trace-b');
  tracePath(tailTimesB,tailAmpB,xb,yb,false,'#000',2.4,gb,'tail-trace-b');
  tracePath(purpleTimesB,purpleAmpB,xb,yb,false,'#800080',3.2,gb,'ifw-trace-b');
  tracePath(redTimesB,redAmpB,xb,yb,true,'#ff0000',3.2,gb,'acfw-trace-b');
  tracePath(blueTimesB,blueAmpB,xb,yb,false,'#0000ff',2.8,gb,'aw-trace-b');

  const ge = document.getElementById('trace-e');
  const xe = linScale(-4,4,858.9,1208), ye = linScale(0.9,1.8,881,1592);
  tracePath(blackAmpE.map((a,i)=>blackStartE+i*blackStepE),blackAmpE,xe,ye,false,'#000',2.8,ge,'noise-trace-e');
  tracePath(purpleAmpE.map((a,i)=>purpleStartE+i*purpleStepE),purpleAmpE,xe,ye,false,'#800080',3.2,ge,'ifw-trace-e');
  tracePath(redTimesE,redAmpE,xe,ye,true,'#ff0000',3.2,ge,'acfw-trace-e');
  tracePath(blueTimesE,blueAmpE,xe,ye,true,'#0000ff',2.8,ge,'aw-trace-e');
  tracePath(joinTimesE,joinAmpE,xe,ye,false,'#000',2.6,ge,'join-trace-e');
  tracePath(tailTimesE,tailAmpE,xe,ye,false,'#000',2.4,ge,'tail-trace-e');
})();

/* ---------- spectrogram ---------- */
function drawSpectrogram(groupId,times,values,vmin,vmax,top,bottom,name){
  const g = document.getElementById(groupId);
  const frag = document.createDocumentFragment();
  const left = 1343.8, right = 1860.8, step = 4;
  const px2f = linScale(left,right,0,150), py2t = linScale(top,bottom,0.9,1.8);
  for (let py = top; py < bottom; py += step){
    const t = py2t(py + step/2);
    let ri = 0;
    while (ri < times.length-2 && t > times[ri+1]) ri++;
    const ru = Math.max(0,Math.min(1,(t-times[ri])/(times[ri+1]-times[ri])));
    for (let px = left; px < right; px += step){
      const f = px2f(px + step/2);
      let ci = 0;
      while (ci < specFreqs.length-2 && f > specFreqs[ci+1]) ci++;
      const cu = Math.max(0,Math.min(1,(f-specFreqs[ci])/(specFreqs[ci+1]-specFreqs[ci])));
      const a = values[ri][ci]*(1-cu) + values[ri][ci+1]*cu;
      const b = values[ri+1][ci]*(1-cu) + values[ri+1][ci+1]*cu;
      const v = a*(1-ru) + b*ru;
      const rect = document.createElementNS(SVGNS,'rect');
      rect.setAttribute('x', px.toFixed(1));
      rect.setAttribute('y', py.toFixed(1));
      rect.setAttribute('width', Math.min(step, right-px).toFixed(1));
      rect.setAttribute('height', Math.min(step, bottom-py).toFixed(1));
      rect.setAttribute('fill', colormap((v-vmin)/(vmax-vmin)));
      rect.setAttribute('shape-rendering', 'crispEdges');
      
      
      frag.appendChild(rect);
    }
  }
  g.appendChild(frag);
}
drawSpectrogram('heat-c',specTimesC,specValuesC,1.226,2.054,38,749.5,'spectrogram-cell-c');
drawSpectrogram('heat-f',specTimesF,specValuesF,1.313,1.99,881,1592,'spectrogram-cell-f');

function drawColorbar(groupId,labels,vmin,vmax,top,bottom,name){
  const g = document.getElementById(groupId);
  const left = 1897.5, right = 1919.5;
  const val = linScale(bottom,top,vmin,vmax);
  for (let y = top; y < bottom; y += 3){
    const rect = svgEl('rect',{x:left,y:y,width:right-left,height:Math.min(3,bottom-y),fill:colormap((val(y+1.5)-vmin)/(vmax-vmin)),'shape-rendering':'crispEdges'},g);
    
    
  }
  const frame = svgEl('rect',{x:left,y:top,width:right-left,height:bottom-top,fill:'none',stroke:'#6e6e6e','stroke-width':1.2},g);
  
  
  const ys = linScale(vmin,vmax,bottom,top);
  labels.forEach(lab => {
    const y = ys(parseFloat(lab));
    const tick = svgEl('line',{x1:right-6,y1:y,x2:right,y2:y,stroke:'#333','stroke-width':1.2},g);
    
    
    const txt = svgEl('text',{x:1930,y:y+9.5,'font-size':26},g);
    txt.textContent = lab;
    
    
  });
}
drawColorbar('cbar-c',cbarTicksC,1.226,2.054,38,749,'colorbar-c');
drawColorbar('cbar-f',cbarTicksF,1.313,1.99,881,1592,'colorbar-f');

/* ---------- window bars ---------- */
function drawBar(edges,y,name){
  const g = document.getElementById('bars');
  const colors = ['#000','#ff0000','#0000ff','#800080'];
  const bg = svgEl('rect',{x:389,y:y(edges[0]),width:12.5,height:y(edges[4])-y(edges[0])+2,fill:'#000'},g);
  
  
  colors.forEach((c,i) => {
    const seg = svgEl('rect',{x:390.5,y:y(edges[i])+1,width:9.5,height:y(edges[i+1])-y(edges[i])-2,fill:c},g);
    
    
  });
}
drawBar(windowEdgesA,linScale(0,2,38,749.5),'window-bar-a');
drawBar(windowEdgesD,linScale(0,2,881,1592),'window-bar-d');

/* ---------- seismic gathers (raster texture built around the picked events) ---------- */
function hash(i){ const s = Math.sin(i*12.9898)*43758.5453; return s-Math.floor(s); }
function smooth(u){ u = Math.max(0,Math.min(1,u)); return u*u*(3-2*u); }
function vnoise(u,v){
  const iu = Math.floor(u), iv = Math.floor(v), fu = smooth(u-iu), fv = smooth(v-iv);
  const h = (a,b) => hash(a*57.13+b*131.7);
  const top = h(iu,iv)*(1-fu)+h(iu+1,iv)*fu;
  const bot = h(iu,iv+1)*(1-fu)+h(iu+1,iv+1)*fu;
  return 2*(top*(1-fv)+bot*fv)-1;
}
function renderGather(id,cfg){
  const cv = document.getElementById(id), ctx = cv.getContext('2d');
  const W = cv.width, H = cv.height, img = ctx.createImageData(W,H), px = img.data;
  const traceW = 6, TAU = Math.PI*2, nT = Math.ceil(W/traceW);
  for (let i = 0; i < nT; i++){
    const x = 20 + (i+0.5)*traceW/W*748;
    const t1 = lerpArr(cfg.firstX,cfg.firstT,x);
    const cone = lerpArr(cfg.coneX,cfg.coneT,x);
    const edge = lerpArr(cfg.edgeX,cfg.edgeT,x);
    const rTop = cfg.rollTop(x), rBot = cfg.rollBot(x);
    const diag = cfg.diagX ? lerpArr(cfg.diagX,cfg.diagT,x) : null;
    const p1 = hash(i+1)*0.3;
    const column = 2*hash(i*3+17)-1;
    const lineT = cfg.lineA.map((a,k)=>a+cfg.lineS[k]*x);
    const lineGate = cfg.lineA.map((a,k)=>Math.max(0.1,0.75+1.1*vnoise(x/45,k*3.3)));
    const rollFade = 1 - cfg.rollFadeX*smooth((x-300)/150);
    for (let j = 0; j < H; j++){
      const t = (j+0.5)/H*2;
      let v = 0;
      if (t < t1){
        v = 0.09*Math.exp(-Math.pow((t-(0.035+(x-455)*(x-455)*0.00012))/0.012,2));
      } else {
        const dt = t-t1;
        const fine = 2.0*vnoise(x/24+5,(t-0.0005*x)*170) + 0.9*vnoise(i*1.0+0.5,t*190+40);
        let amp = cfg.bgAmp + cfg.fanAmp*Math.exp(-dt/cfg.fanTau) + cfg.midAmp*Math.exp(-dt/cfg.midTau);
        if (t >= edge) amp = cfg.belowAmp;
        v = amp*fine*smooth(dt/0.006);
        if (t > cone && t < edge){
          const depth = (t-cone)/(edge-cone);
          const coneEnv = cfg.coneAmp*(0.55+0.45*depth)*smooth((t-cone)/0.05);
          v += coneEnv*(Math.sin(TAU*(55*(t-0.0012*x)+p1))*1.3 + 0.7*fine);
        }
        if (t < edge+0.02){
          for (let k = 0; k < lineT.length; k++){
            const d = (t-lineT[k])/0.0048;
            if (Math.abs(d) < 3) v += cfg.lineAmp[k]*Math.exp(-d*d)*lineGate[k];
          }
        }
        if (diag !== null){
          const d = (t-diag)/0.011;
          if (Math.abs(d) < 3) v -= 2.4*Math.exp(-d*d)*(0.6+0.8*hash(i+53));
        }
        if (t > rTop && t < rBot){
          const env = smooth((t-rTop)/0.05)*smooth((rBot-t)/cfg.rollEdge);
          const fadeT = 1 - cfg.rollFadeT*smooth((t-0.8)/0.9);
          const pa = TAU*(t-0.0018*x)/0.105 + 1.2*Math.sin(x/70);
          const pb = TAU*(x+30*t)/34 + 0.8*Math.sin(t*5);
          v += cfg.rollAmp*rollFade*fadeT*env*Math.sin(pa)*Math.sin(pb);
        }
        if (t > edge) v += cfg.stripeAmp*column*(0.55+0.45*Math.sin(TAU*t/0.15+i));
        const de = (t-edge)/0.014;
        if (Math.abs(de) < 3) v += 3.2*Math.exp(-de*de);
      }
      const g = Math.max(0,Math.min(255,Math.round(128+v*127)));
      for (let c = 0; c < traceW; c++){
        const col = i*traceW+c;
        if (col >= W) break;
        const o = (j*W+col)*4;
        px[o] = g; px[o+1] = g; px[o+2] = g; px[o+3] = 255;
      }
    }
  }
  ctx.putImageData(img,0,0);
}
renderGather('gather-a',{
  firstX:firstOffsetsA,firstT:firstTimesA,coneX:coneOffsetsA,coneT:coneTimesA,edgeX:edgeOffsetsA,edgeT:edgeTimesA,
  lineA:lineInterceptA,lineS:lineSlopeA,lineAmp:lineAmpA,
  rollTop:x=>lerpArr(edgeOffsetsA,edgeTimesA,x),rollBot:x=>lerpArr(rollOffsetsA,rollBottomA,x),
  rollAmp:3.6,rollEdge:0.12,rollFadeX:0.65,rollFadeT:0.1,
  bgAmp:0.12,fanAmp:0.75,fanTau:0.16,midAmp:0.22,midTau:0.8,coneAmp:0.9,belowAmp:0.1,stripeAmp:0.28
});
renderGather('gather-d',{
  firstX:firstOffsetsD,firstT:firstTimesD,coneX:coneOffsetsD,coneT:coneTimesD,edgeX:edgeOffsetsD,edgeT:edgeTimesD,
  diagX:diagOffsetsD,diagT:diagTimesD,
  lineA:lineInterceptD,lineS:lineSlopeD,lineAmp:lineAmpD,
  rollTop:x=>lerpArr(bandOffsetsD,bandTimesD,x)-0.13,rollBot:x=>lerpArr(bandOffsetsD,bandTimesD,x)+0.13,
  rollAmp:1.5,rollEdge:0.08,rollFadeX:0.5,rollFadeT:0.7,
  bgAmp:0.14,fanAmp:1.0,fanTau:0.3,midAmp:0.35,midTau:0.9,coneAmp:1.0,belowAmp:0.13,stripeAmp:0.16
});
</script>
</body>
</html>
